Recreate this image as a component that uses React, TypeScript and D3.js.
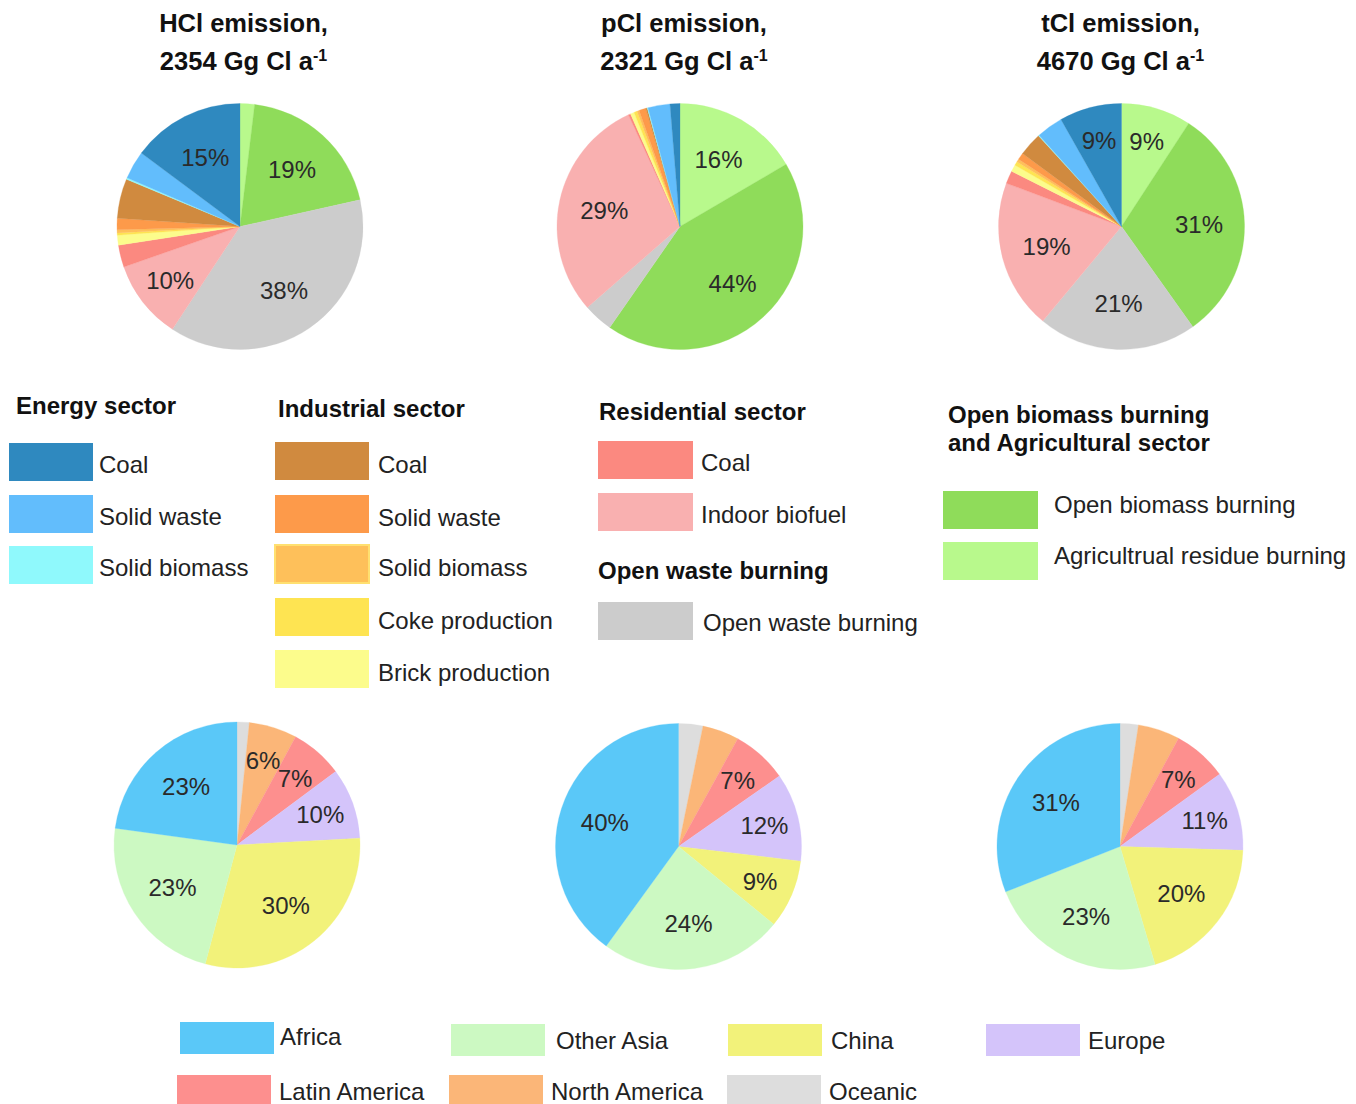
import React from "react";
import * as d3 from "d3";

// ---------- DATA ----------
const sectorNames = [
  "Agricultrual residue burning",
  "Open biomass burning",
  "Open waste burning",
  "Indoor biofuel",
  "Residential coal",
  "Brick production",
  "Coke production",
  "Industrial solid biomass",
  "Industrial solid waste",
  "Industrial coal",
  "Energy solid biomass",
  "Energy solid waste",
  "Energy coal",
];
const sectorColors = [
  "#b8f98c", "#8fdc5a", "#cccccc", "#f9b0b0", "#fb8980", "#fcfc8c", "#fee452",
  "#fec05a", "#fd9a4a", "#d08a3f", "#8ff9fc", "#62bdfc", "#2f89bf",
];
const hclSectorValues = [1.9, 19.6, 37.7, 10.4, 2.9, 1.3, 0.3, 0.4, 1.5, 5.2, 0.2, 3.7, 14.8];
const hclSectorLabels = ["", "19%", "38%", "10%", "", "", "", "", "", "", "", "", "15%"];
const pclSectorValues = [16.6, 43.2, 3.9, 29.6, 0.3, 0.5, 0.4, 0.3, 0.9, 0.2, 0.1, 2.9, 1.3];
const pclSectorLabels = ["16%", "44%", "", "29%", "", "", "", "", "", "", "", "", ""];
const tclSectorValues = [9.2, 31.0, 20.9, 19.7, 1.7, 0.9, 0.5, 0.4, 0.9, 3.1, 0.1, 3.5, 8.2];
const tclSectorLabels = ["9%", "31%", "21%", "19%", "", "", "", "", "", "", "", "", "9%"];

const regionNames = ["Oceanic", "North America", "Latin America", "Europe", "China", "Other Asia", "Africa"];
const regionColors = ["#dddddd", "#fbb678", "#fd8f8e", "#d4c4fa", "#f2f27a", "#ccf9c2", "#5ac8f8"];
const hclRegionValues = [1.6, 6.3, 6.9, 9.3, 30.0, 23.0, 22.8];
const hclRegionLabels = ["", "6%", "7%", "10%", "30%", "23%", "23%"];
const pclRegionValues = [3.2, 4.8, 7.3, 11.6, 9.0, 24.1, 40.0];
const pclRegionLabels = ["", "", "7%", "12%", "9%", "24%", "40%"];
const tclRegionValues = [2.4, 5.5, 7.1, 10.5, 19.9, 23.6, 31.0];
const tclRegionLabels = ["", "", "7%", "11%", "20%", "23%", "31%"];

const titleLine1 = ["HCl emission,", "pCl emission,", "tCl emission,"];
const titleLine2 = ["2354 Gg Cl a", "2321 Gg Cl a", "4670 Gg Cl a"];

// legend content (sector indexes into sectorNames)
const energyItems = [["Coal", 12], ["Solid waste", 11], ["Solid biomass", 10]];
const industrialItems = [["Coal", 9], ["Solid waste", 8], ["Solid biomass", 7], ["Coke production", 6], ["Brick production", 5]];
const residentialItems = [["Coal", 4], ["Indoor biofuel", 3]];
const openWasteItems = [["Open waste burning", 2]];
const openBiomassItems = [["Open biomass burning", 1], ["Agricultrual residue burning", 0]];
const regionLegendOrder = [6, 5, 4, 3, 2, 1, 0];

// ---------- LAYOUT ----------
const W = 1356;
const H = 1104;
const R = 123;
const FONT = "'Liberation Sans', Arial, Helvetica, sans-serif";
const topCenters = [[240, 226.5], [680, 226.5], [1121.5, 226.5]];
const bottomCenters = [[237, 845], [678.5, 846.5], [1120, 846.5]];
const titleX = [243.5, 684, 1120.5];

const legendGroups = [
  { header: ["Energy sector"], hx: 16, hy: [405], sx: 9, sw: 84, lx: 99, ldy: 21, ys: [443, 495, 546], items: energyItems },
  { header: ["Industrial sector"], hx: 278, hy: [408], sx: 275, sw: 94, lx: 378, ldy: 22, ys: [442, 495, 545, 598, 650], items: industrialItems },
  { header: ["Residential sector"], hx: 599, hy: [411], sx: 598, sw: 95, lx: 701, ldy: 21, ys: [441, 493], items: residentialItems },
  { header: ["Open waste burning"], hx: 598, hy: [570], sx: 598, sw: 95, lx: 703, ldy: 20, ys: [602], items: openWasteItems },
  { header: ["Open biomass burning", "and Agricultural sector"], hx: 948, hy: [414, 442], sx: 943, sw: 95, lx: 1054, ldy: 13, ys: [491, 542], items: openBiomassItems },
];
const bottomLegendX = [[180, 280], [451, 556], [728, 831], [986, 1088], [177, 279], [449, 551], [727, 829]];
const bottomLegendY = [1022, 1024, 1024, 1024, 1075, 1075, 1075];
const bottomLegendTextY = [1036, 1040, 1040, 1040, 1091, 1091, 1091];

function Pie({ cx, cy, values, labels, colors }) {
  const total = d3.sum(values);
  const pie = d3.pie<number>().sort(null).value((d) => d)(values);
  const arc = d3.arc<any>().innerRadius(0).outerRadius(R);
  return (
    <g transform={`translate(${cx},${cy})`}>
      {pie.map((p, i) => (
        <path key={i} d={arc(p) || ""} fill={colors[i]} stroke={colors[i]} strokeWidth={0.3} />
      ))}
      {pie.map((p, i) => {
        if (!labels[i]) return null;
        const lr = (p.value / total) <= 0.12 ? R * 0.72 : R * 0.63;
        const [x, y] = d3.arc<any>().innerRadius(lr).outerRadius(lr).centroid(p);
        return (
          <text key={"l" + i} x={x} y={y} textAnchor="middle" dominantBaseline="central"
            fontSize={24} fill="#2a2a2a" fontFamily={FONT}>{labels[i]}</text>
        );
      })}
    </g>
  );
}

export default function App() {
  const sectorSets = [
    [hclSectorValues, hclSectorLabels],
    [pclSectorValues, pclSectorLabels],
    [tclSectorValues, tclSectorLabels],
  ];
  const regionSets = [
    [hclRegionValues, hclRegionLabels],
    [pclRegionValues, pclRegionLabels],
    [tclRegionValues, tclRegionLabels],
  ];
  return (
    <svg width={W} height={H} viewBox={`0 0 ${W} ${H}`}
      style={{ position: "absolute", left: 0, top: 0, background: "#fff" }} fontFamily={FONT}>
      <rect x={0} y={0} width={W} height={H} fill="#fff" />
      {titleLine1.map((t, i) => (
        <g key={"t" + i}>
          <text x={titleX[i]} y={32} textAnchor="middle" fontWeight="bold" fontSize={25.5} fill="#111">{t}</text>
          <text x={titleX[i]} y={70} textAnchor="middle" fontWeight="bold" fontSize={25.5} fill="#111">
            {titleLine2[i]}
            <tspan dy={-9} fontSize={16}>-1</tspan>
          </text>
        </g>
      ))}
      {sectorSets.map(([v, l], i) => (
        <Pie key={"sp" + i} cx={topCenters[i][0]} cy={topCenters[i][1]} values={v} labels={l} colors={sectorColors} />
      ))}
      {regionSets.map(([v, l], i) => (
        <Pie key={"rp" + i} cx={bottomCenters[i][0]} cy={bottomCenters[i][1]} values={v} labels={l} colors={regionColors} />
      ))}
      {legendGroups.map((g, gi) => (
        <g key={"lg" + gi}>
          {g.header.map((h, hi) => (
            <text key={hi} x={g.hx} y={g.hy[hi]} dominantBaseline="central" fontWeight="bold" fontSize={24} fill="#111">{h}</text>
          ))}
          {g.items.map(([label, idx], ii) => (
            <g key={ii}>
              <rect x={g.sx} y={g.ys[ii]} width={g.sw} height={38} fill={sectorColors[idx as number]}
                stroke={idx === 7 ? "#ffe070" : "none"} strokeWidth={2} />
              <text x={g.lx} y={g.ys[ii] + g.ldy} dominantBaseline="central" fontSize={24} fill="#222">{label}</text>
            </g>
          ))}
        </g>
      ))}
      {regionLegendOrder.map((ri, k) => (
        <g key={"rl" + k}>
          <rect x={bottomLegendX[k][0]} y={bottomLegendY[k]} width={94} height={32} fill={regionColors[ri]} />
          <text x={bottomLegendX[k][1]} y={bottomLegendTextY[k]} dominantBaseline="central" fontSize={24} fill="#222">{regionNames[ri]}</text>
        </g>
      ))}
    </svg>
  );
}
